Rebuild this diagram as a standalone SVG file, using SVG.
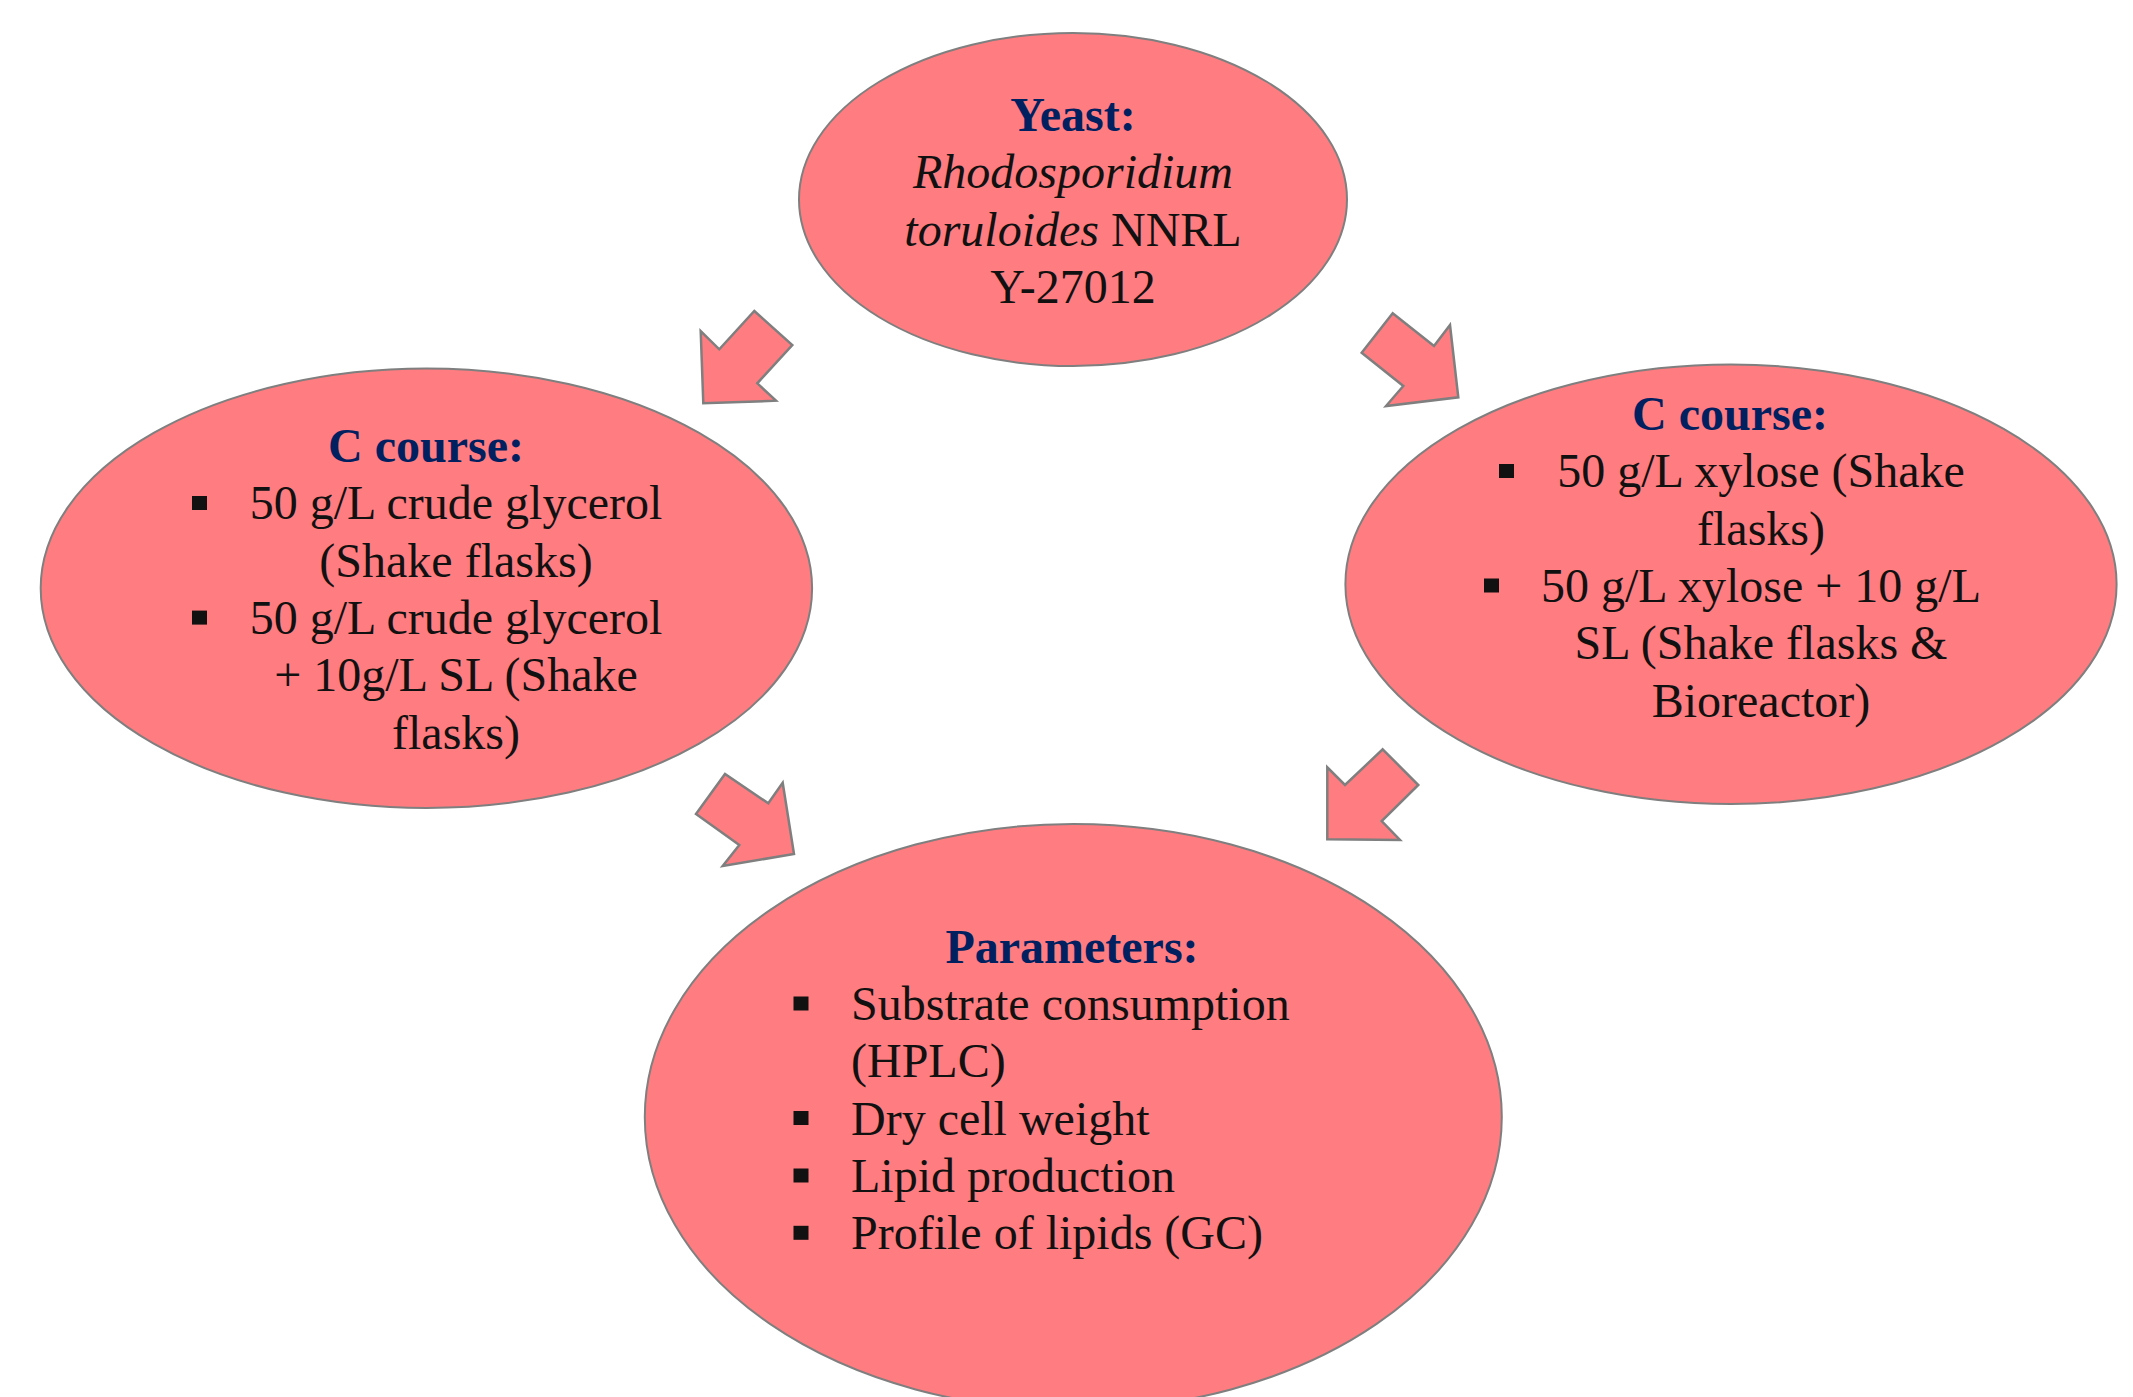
<svg xmlns="http://www.w3.org/2000/svg" width="2133" height="1397" viewBox="0 0 2133 1397">
<style>
.node{fill:#FF7C80;stroke:#7F7F7F;stroke-width:2}
.arrow{fill:#FF7C80;stroke:#7F7F7F;stroke-width:2.5;stroke-linejoin:miter}
text{font-family:"Liberation Serif","Times New Roman",serif;font-size:48px;fill:#111111}
.head{font-weight:bold;fill:#002060;text-anchor:middle}
.c{text-anchor:middle}
.i{font-style:italic}
.b{fill:#111111}
</style>
<rect width="2133" height="1397" fill="#ffffff"/>
<g id="connectors">
<polygon class="arrow" points="754.3,311 792.3,345 757.3,383.3 776,400.7 703.3,403.3 700.7,331 719.3,349.3"/>
<polygon class="arrow" points="1361.7,352.7 1392.7,313.3 1434,346 1450,325 1458.3,397.3 1386,406 1403.3,386"/>
<polygon class="arrow" points="696,814 725,774 768.3,803.3 782.7,782.7 794,854 722.7,866 739.3,845"/>
<polygon class="arrow" points="1382.7,749.3 1418.3,785 1381.7,821 1400,840 1327.3,839.3 1327.3,767.3 1345,785"/>
</g>
<g id="node-yeast">
<ellipse class="node" cx="1073" cy="199.5" rx="274" ry="166.5"/>
<text class="head" x="1073" y="131">Yeast:</text>
<text class="c i" x="1073" y="188.3">Rhodosporidium</text>
<text class="c" x="1073" y="245.6"><tspan class="i">toruloides</tspan> NNRL</text>
<text class="c" x="1073" y="302.9">Y-27012</text>
</g>
<g id="node-glycerol">
<ellipse class="node" cx="426.4" cy="588.3" rx="385.7" ry="219.7"/>
<text class="head" x="426" y="462">C course:</text>
<rect class="b" x="192" y="496" width="15" height="14"/>
<text class="c" x="456" y="519.3">50 g/L crude glycerol</text>
<text class="c" x="456" y="576.6">(Shake flasks)</text>
<rect class="b" x="192" y="610.6" width="15" height="14"/>
<text class="c" x="456" y="633.9">50 g/L crude glycerol</text>
<text class="c" x="456" y="691.2">+ 10g/L SL (Shake</text>
<text class="c" x="456" y="748.5">flasks)</text>
</g>
<g id="node-xylose">
<ellipse class="node" cx="1731" cy="584.3" rx="385.6" ry="219.7"/>
<text class="head" x="1730" y="430">C course:</text>
<rect class="b" x="1499" y="464" width="15" height="14"/>
<text class="c" x="1761" y="487.3">50 g/L xylose (Shake</text>
<text class="c" x="1761" y="544.6">flasks)</text>
<rect class="b" x="1484" y="578.5" width="15" height="14"/>
<text class="c" x="1761" y="601.9">50 g/L xylose + 10 g/L</text>
<text class="c" x="1761" y="659.2">SL (Shake flasks &amp;</text>
<text class="c" x="1761" y="716.5">Bioreactor)</text>
</g>
<g id="node-parameters">
<ellipse class="node" cx="1073.3" cy="1117" rx="428.5" ry="293"/>
<text class="head" x="1072" y="962.7">Parameters:</text>
<rect class="b" x="793.5" y="996.5" width="15" height="14"/>
<text x="851" y="1020">Substrate consumption</text>
<text x="851" y="1077.3">(HPLC)</text>
<rect class="b" x="793.5" y="1111" width="15" height="14"/>
<text x="851" y="1134.6">Dry cell weight</text>
<rect class="b" x="793.5" y="1168.5" width="15" height="14"/>
<text x="851" y="1191.9">Lipid production</text>
<rect class="b" x="793.5" y="1225.8" width="15" height="14"/>
<text x="851" y="1249.2">Profile of lipids (GC)</text>
</g>
</svg>
